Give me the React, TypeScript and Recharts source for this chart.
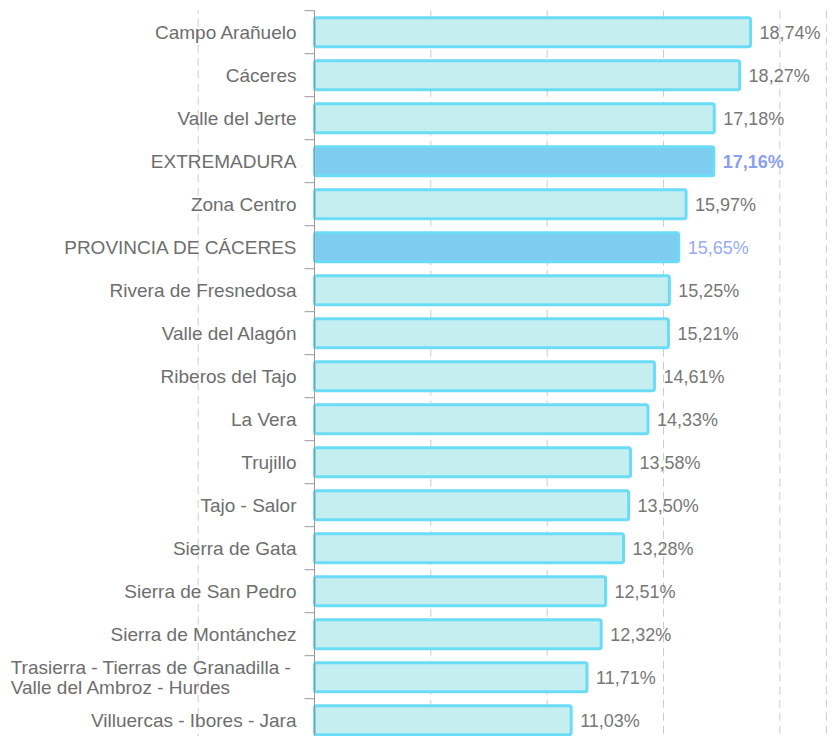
import React from "react";
import { BarChart, Bar, XAxis, YAxis, CartesianGrid, ReferenceLine, Cell, LabelList } from "recharts";

const categories = [
  "Campo Arañuelo",
  "Cáceres",
  "Valle del Jerte",
  "EXTREMADURA",
  "Zona Centro",
  "PROVINCIA DE CÁCERES",
  "Rivera de Fresnedosa",
  "Valle del Alagón",
  "Riberos del Tajo",
  "La Vera",
  "Trujillo",
  "Tajo - Salor",
  "Sierra de Gata",
  "Sierra de San Pedro",
  "Sierra de Montánchez",
  "Trasierra - Tierras de Granadilla -\nValle del Ambroz - Hurdes",
  "Villuercas - Ibores - Jara",
];

const values = [
  18.74, 18.27, 17.18, 17.16, 15.97, 15.65, 15.25, 15.21, 14.61, 14.33, 13.58, 13.5, 13.28, 12.51, 12.32, 11.71,
  11.03,
];

const aggregateRows = ["EXTREMADURA", "PROVINCIA DE CÁCERES"];
const boldRows = ["EXTREMADURA"];

const xDomain = [0, 22];
const xTicks = [0, 5, 10, 15, 20];
const leftGuide = -5;

const data = categories.map((name, i) => ({ name, value: values[i] }));

const FONT = "'Liberation Sans', Arial, sans-serif";
const CAT_SIZE = 19;
const VAL_SIZE = 18;
const TICK_MARGIN = 18;
const TICK_LEN = 10;
const AXIS_COLOR = "#999999";
const GRID_COLOR = "#cccccc";

let ctx: CanvasRenderingContext2D | null = null;
function measure(text: string, font: string): number {
  if (!ctx) {
    const c = document.createElement("canvas");
    ctx = c.getContext("2d");
  }
  if (!ctx) return text.length * 9;
  ctx.font = font;
  return ctx.measureText(text).width;
}

function CategoryTick(props: any) {
  const { x, y, payload, index, visibleTicksCount } = props;
  const half = payload && typeof payload.offset === "number" && payload.offset > 0 ? payload.offset : 21.5;
  const axisX = x + TICK_MARGIN;
  const lines = String(payload.value).split("\n");
  const isLast = index === visibleTicksCount - 1;
  const font = `${CAT_SIZE}px ${FONT}`;
  let textEl;
  if (lines.length > 1) {
    const maxW = Math.max(...lines.map((l, i) => measure(i < lines.length - 1 ? l + " " : l, font)));
    const startX = x - maxW;
    const lh = 20;
    const y0 = y - ((lines.length - 1) * lh) / 2;
    textEl = (
      <text fontFamily={FONT} fontSize={CAT_SIZE} fill="#6e6e6e" textAnchor="start">
        {lines.map((l, i) => (
          <tspan key={i} x={startX} y={y0 + i * lh} dy="0.355em">
            {l}
          </tspan>
        ))}
      </text>
    );
  } else {
    textEl = (
      <text x={x} y={y} dy="0.355em" fontFamily={FONT} fontSize={CAT_SIZE} fill="#6e6e6e" textAnchor="end">
        {lines[0]}
      </text>
    );
  }
  return (
    <g>
      <line x1={axisX - TICK_LEN} x2={axisX} y1={y - half} y2={y - half} stroke={AXIS_COLOR} strokeWidth={1} />
      {isLast && (
        <line x1={axisX - TICK_LEN} x2={axisX} y1={y + half} y2={y + half} stroke={AXIS_COLOR} strokeWidth={1} />
      )}
      {textEl}
    </g>
  );
}

function ValueLabel(props: any) {
  const { x, y, width, height, value, index } = props;
  const name = categories[index];
  const isAgg = aggregateRows.includes(name);
  const isBold = boldRows.includes(name);
  const txt = Number(value).toFixed(2).replace(".", ",") + "%";
  return (
    <text
      x={x + width + 9}
      y={y + height / 2}
      dy="0.355em"
      fontFamily={FONT}
      fontSize={VAL_SIZE}
      fontWeight={isBold ? "bold" : "normal"}
      fill={isBold ? "#8b9ff0" : isAgg ? "#98abf3" : "#777777"}
      textAnchor="start"
    >
      {txt}
    </text>
  );
}

export default function App() {
  return (
    <div style={{ position: "fixed", left: 0, top: 0, width: 834, height: 736, overflow: "hidden", background: "#fff" }}>
      <BarChart
        width={834}
        height={745}
        data={data}
        layout="vertical"
        margin={{ top: 10.7, right: 7.6, bottom: 3.3, left: 0 }}
        barCategoryGap={0}
      >
        <CartesianGrid horizontal={false} vertical={true} stroke={GRID_COLOR} strokeDasharray="8 5" />
        <XAxis type="number" domain={xDomain} ticks={xTicks} hide />
        <YAxis
          type="category"
          dataKey="name"
          width={314.5}
          axisLine={{ stroke: AXIS_COLOR }}
          tickLine={false}
          tickSize={0}
          tickMargin={TICK_MARGIN}
          interval={0}
          tick={<CategoryTick />}
        />
        <ReferenceLine x={leftGuide} ifOverflow="visible" stroke={GRID_COLOR} strokeDasharray="8 5" />
        <Bar dataKey="value" barSize={29} stroke="#6bdcf6" strokeWidth={3} radius={2} isAnimationActive={false}>
          {data.map((d) => (
            <Cell key={d.name} fill={aggregateRows.includes(d.name) ? "#7ecdf0" : "#c5eef0"} />
          ))}
          <LabelList dataKey="value" content={<ValueLabel />} />
        </Bar>
      </BarChart>
    </div>
  );
}
